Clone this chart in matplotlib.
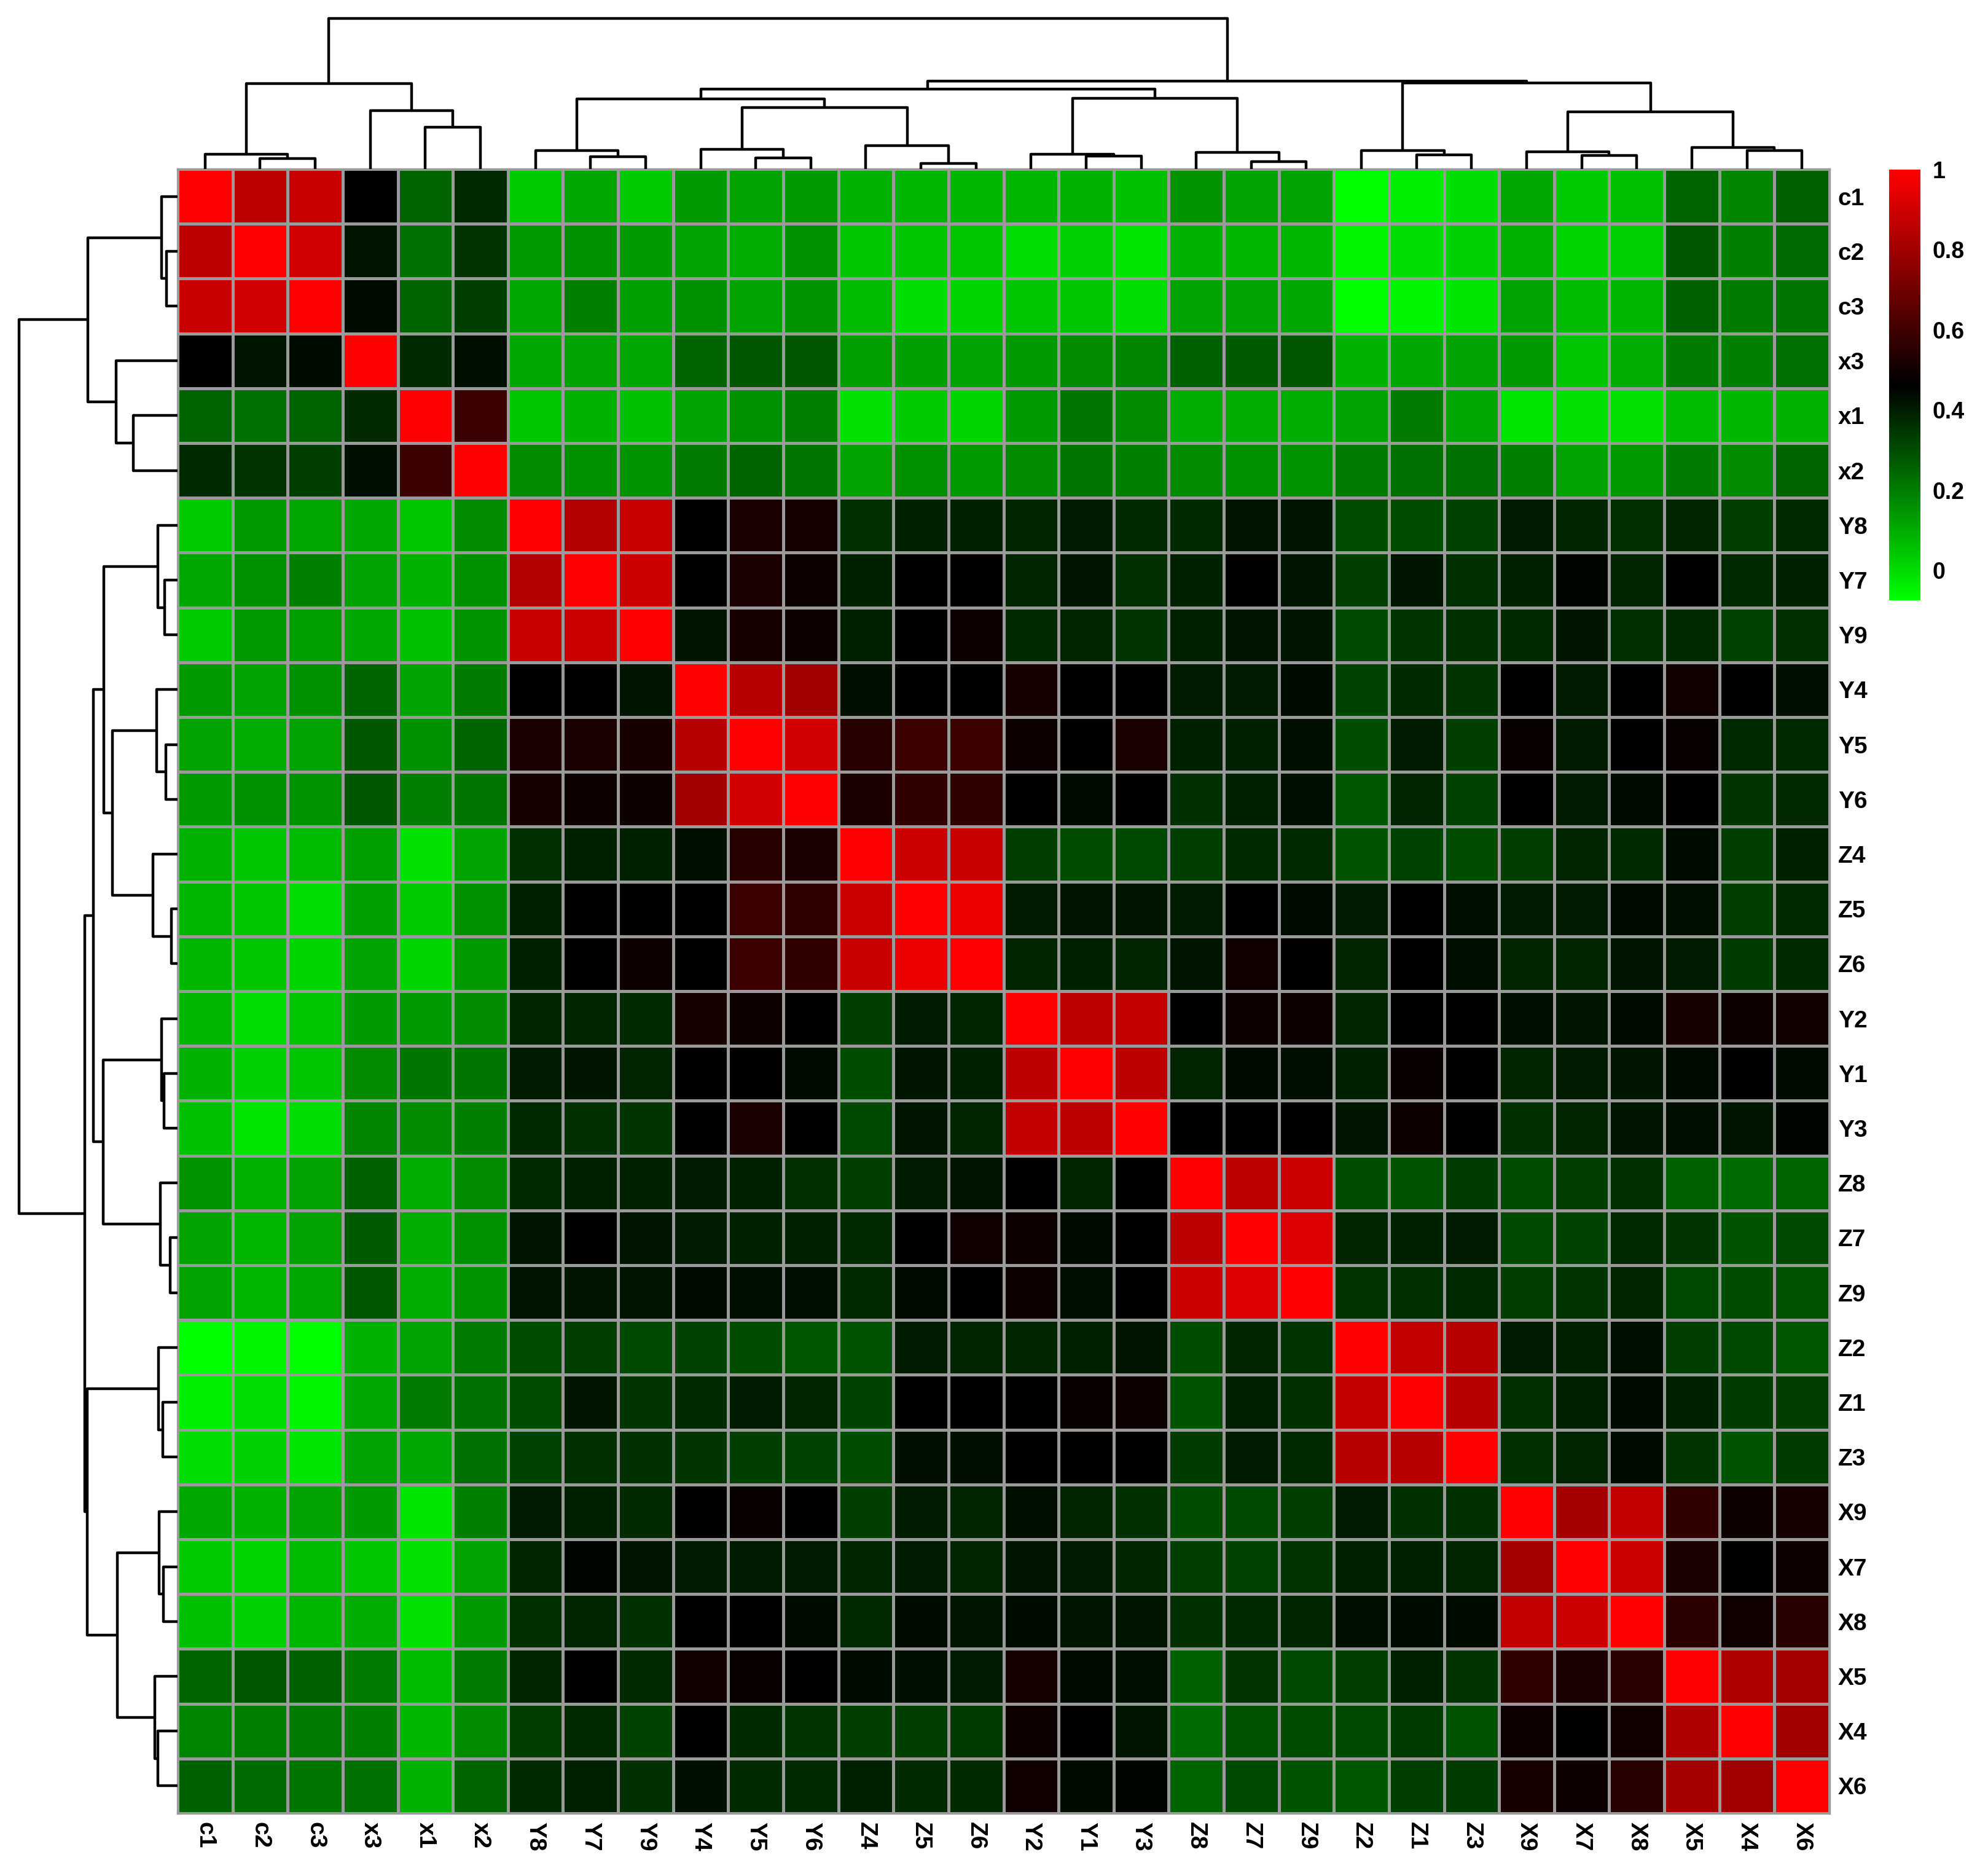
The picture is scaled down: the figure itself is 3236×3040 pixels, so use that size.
import numpy as np
import matplotlib.pyplot as plt
from matplotlib.colors import LinearSegmentedColormap

plt.rcParams['font.family'] = ['Liberation Sans', 'DejaVu Sans']

# Ordre des variables (feuilles du dendrogramme)
labels = ["c1", "c2", "c3", "x3", "x1", "x2", "Y8", "Y7", "Y9", "Y4", "Y5", "Y6",
          "Z4", "Z5", "Z6", "Y2", "Y1", "Y3", "Z8", "Z7", "Z9", "Z2", "Z1", "Z3",
          "X9", "X7", "X8", "X5", "X4", "X6"]

# Triangle inférieur de la matrice de corrélation (ligne i, colonnes 0..i-1)
lower = [
    [],
    [0.86],
    [0.885, 0.905],
    [0.46, 0.42, 0.44],
    [0.25, 0.225, 0.25, 0.375],
    [0.375, 0.35, 0.33, 0.43, 0.585],
    [0.036, 0.14, 0.11, 0.11, 0.047, 0.17],
    [0.11, 0.16, 0.195, 0.12, 0.09, 0.16, 0.84],
    [0.036, 0.14, 0.13, 0.11, 0.058, 0.15, 0.885, 0.895],
    [0.14, 0.12, 0.16, 0.25, 0.12, 0.205, 0.46, 0.47, 0.42],
    [0.12, 0.10, 0.12, 0.28, 0.16, 0.25, 0.52, 0.52, 0.51, 0.85],
    [0.14, 0.16, 0.15, 0.28, 0.195, 0.215, 0.51, 0.49, 0.49, 0.80, 0.905],
    [0.09, 0.047, 0.068, 0.13, -0.01, 0.12, 0.365, 0.395, 0.395, 0.43, 0.545, 0.52],
    [0.079, 0.047, 0.0, 0.13, 0.036, 0.16, 0.395, 0.46, 0.47, 0.47, 0.585, 0.565, 0.895],
    [0.079, 0.047, 0.015, 0.12, 0.015, 0.14, 0.395, 0.47, 0.49, 0.47, 0.585, 0.565, 0.885, 0.96],
    [0.079, 0.0, 0.047, 0.14, 0.14, 0.17, 0.385, 0.385, 0.375, 0.51, 0.49, 0.47, 0.33, 0.405, 0.385],
    [0.09, 0.025, 0.047, 0.17, 0.215, 0.215, 0.405, 0.42, 0.385, 0.46, 0.47, 0.44, 0.30, 0.42, 0.395,
     0.86],
    [0.058, -0.02, 0.0, 0.185, 0.17, 0.195, 0.375, 0.365, 0.35, 0.47, 0.52, 0.46, 0.31, 0.42, 0.385,
     0.87, 0.86],
    [0.15, 0.09, 0.12, 0.26, 0.10, 0.17, 0.375, 0.395, 0.395, 0.405, 0.395, 0.365, 0.33, 0.405, 0.42,
     0.46, 0.385, 0.46],
    [0.12, 0.079, 0.12, 0.27, 0.10, 0.16, 0.42, 0.46, 0.42, 0.405, 0.395, 0.395, 0.375, 0.46, 0.50,
     0.49, 0.44, 0.46, 0.86],
    [0.12, 0.079, 0.11, 0.28, 0.10, 0.15, 0.42, 0.42, 0.42, 0.44, 0.43, 0.43, 0.375, 0.44, 0.47,
     0.49, 0.43, 0.46, 0.895, 0.925],
    [-0.08, -0.05, -0.07, 0.09, 0.12, 0.205, 0.30, 0.33, 0.31, 0.32, 0.30, 0.28, 0.29, 0.405, 0.385,
     0.385, 0.395, 0.42, 0.30, 0.385, 0.35],
    [-0.04, 0.0, -0.05, 0.11, 0.205, 0.225, 0.30, 0.42, 0.35, 0.375, 0.405, 0.385, 0.32, 0.46, 0.47,
     0.46, 0.48, 0.49, 0.29, 0.395, 0.365, 0.87],
    [0.0, 0.025, -0.02, 0.12, 0.11, 0.225, 0.32, 0.365, 0.365, 0.35, 0.33, 0.32, 0.30, 0.43, 0.43,
     0.47, 0.47, 0.46, 0.34, 0.405, 0.375, 0.85, 0.85],
    [0.11, 0.09, 0.12, 0.14, -0.02, 0.195, 0.405, 0.395, 0.375, 0.47, 0.48, 0.46, 0.33, 0.405, 0.385,
     0.43, 0.385, 0.365, 0.30, 0.31, 0.33, 0.405, 0.365, 0.365],
    [0.036, 0.015, 0.068, 0.047, -0.01, 0.12, 0.385, 0.45, 0.42, 0.405, 0.405, 0.405, 0.385, 0.405, 0.385,
     0.42, 0.405, 0.385, 0.33, 0.32, 0.35, 0.395, 0.395, 0.385, 0.81],
    [0.058, 0.025, 0.079, 0.10, -0.01, 0.14, 0.365, 0.385, 0.365, 0.46, 0.46, 0.44, 0.375, 0.44, 0.42,
     0.44, 0.42, 0.42, 0.365, 0.375, 0.385, 0.43, 0.44, 0.44, 0.87, 0.895],
    [0.25, 0.28, 0.26, 0.205, 0.068, 0.205, 0.385, 0.46, 0.375, 0.50, 0.48, 0.47, 0.44, 0.43, 0.405,
     0.51, 0.44, 0.43, 0.26, 0.35, 0.31, 0.33, 0.395, 0.35, 0.565, 0.52, 0.555],
    [0.185, 0.195, 0.205, 0.195, 0.079, 0.17, 0.33, 0.375, 0.32, 0.46, 0.375, 0.35, 0.33, 0.33, 0.34,
     0.49, 0.46, 0.42, 0.238, 0.29, 0.30, 0.31, 0.34, 0.29, 0.49, 0.47, 0.50, 0.83],
    [0.26, 0.238, 0.215, 0.225, 0.09, 0.25, 0.375, 0.395, 0.365, 0.43, 0.375, 0.375, 0.395, 0.375, 0.375,
     0.50, 0.44, 0.45, 0.25, 0.31, 0.29, 0.28, 0.33, 0.34, 0.51, 0.49, 0.545, 0.81, 0.80],
]

# Fusions du dendrogramme : (noeud a, noeud b, hauteur), nouveaux noeuds numérotés à partir de 30
merges = [
    (1, 2, 0.068), (0, 30, 0.10), (4, 5, 0.278), (3, 32, 0.388), (31, 33, 0.567),
    (7, 8, 0.083), (6, 35, 0.123), (10, 11, 0.075), (9, 37, 0.13), (13, 14, 0.038),
    (12, 39, 0.155), (38, 40, 0.41), (36, 41, 0.465), (16, 17, 0.085), (15, 43, 0.10),
    (19, 20, 0.048), (18, 45, 0.11), (44, 46, 0.47), (42, 47, 0.53), (22, 23, 0.094),
    (21, 49, 0.121), (25, 26, 0.09), (24, 51, 0.115), (28, 29, 0.123), (27, 53, 0.142),
    (52, 54, 0.38), (50, 55, 0.57), (48, 56, 0.585), (34, 57, 1.0),
]

cbar_ticks = [0, 0.2, 0.4, 0.6, 0.8, 1]
vmin, vmax = -0.075, 1.0

n = len(labels)
M = np.eye(n)
for i in range(n):
    for j in range(i):
        M[i, j] = lower[i][j]
        M[j, i] = lower[i][j]

cmap = LinearSegmentedColormap.from_list("gkr", ["#00ff00", "#000000", "#ff0000"])

W, H = 3236, 3040
fig = plt.figure(figsize=(W / 200, H / 200), dpi=200)


def box(x0, y0, x1, y1):
    # coordonnées pixels (origine en haut à gauche) -> rect figure
    return [x0 / W, 1 - y1 / H, (x1 - x0) / W, (y1 - y0) / H]


hx0, hy0, hx1, hy1 = 289, 275, 2978, 2951
ax = fig.add_axes(box(hx0, hy0, hx1, hy1))
ax.pcolormesh(np.arange(n + 1), np.arange(n + 1), M, cmap=cmap, vmin=vmin, vmax=vmax,
              edgecolors="#9a9a9a", linewidth=1.2)
ax.set_xlim(0, n)
ax.set_ylim(n, 0)
ax.set_xticks(np.arange(n) + 0.5)
ax.set_xticklabels(labels, rotation=-90, fontsize=14, fontweight="bold")
ax.set_yticks(np.arange(n) + 0.5)
ax.set_yticklabels(labels, fontsize=14, fontweight="bold")
ax.yaxis.tick_right()
ax.tick_params(length=0, pad=5)
for s in ax.spines.values():
    s.set_color("#9a9a9a")
    s.set_linewidth(1.2)

# positions et hauteurs des noeuds
pos = {i: i + 0.5 for i in range(n)}
hgt = {i: 0.0 for i in range(n)}
segs = []
for k, (a, b, h) in enumerate(merges):
    pos[n + k] = (pos[a] + pos[b]) / 2
    hgt[n + k] = h
    segs.append(([pos[a], pos[a], pos[b], pos[b]], [hgt[a], h, h, hgt[b]]))

axt = fig.add_axes(box(hx0, 30, hx1, hy0))
for xs, hs in segs:
    axt.plot(xs, hs, color="black", lw=1.6, solid_capstyle="butt", clip_on=False)
axt.set_xlim(0, n)
axt.set_ylim(0, 1)
axt.axis("off")

axl = fig.add_axes(box(31, hy0, hx0, hy1))
for xs, hs in segs:
    axl.plot(hs, xs, color="black", lw=1.6, solid_capstyle="butt", clip_on=False)
axl.set_ylim(n, 0)
axl.set_xlim(1, 0)
axl.axis("off")

# barre de couleur
axc = fig.add_axes(box(3075, 276, 3126, 977))
grad = np.linspace(vmin, vmax, 256).reshape(-1, 1)
axc.imshow(grad, aspect="auto", cmap=cmap, vmin=vmin, vmax=vmax, origin="lower",
           extent=[0, 1, vmin, vmax])
axc.set_xticks([])
axc.yaxis.tick_right()
axc.set_yticks(cbar_ticks)
axc.set_yticklabels([f"{t:g}" for t in cbar_ticks], fontsize=13.5, fontweight="bold")
axc.tick_params(length=0, pad=7)
for s in axc.spines.values():
    s.set_visible(False)

fig.savefig("out.png", dpi=200)
